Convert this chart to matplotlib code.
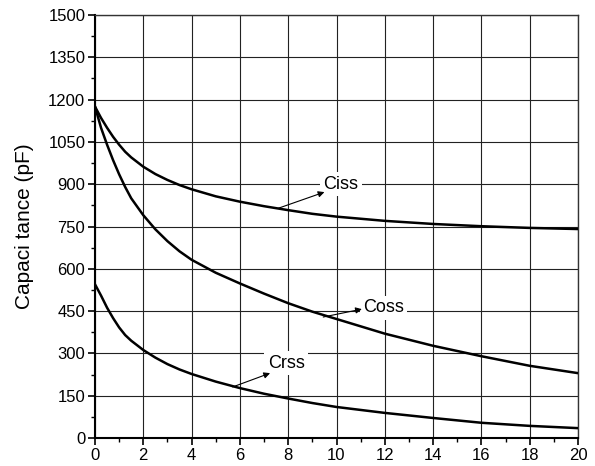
import matplotlib
matplotlib.use("Agg")
import matplotlib.pyplot as plt
from matplotlib.ticker import MultipleLocator

plt.rcParams['font.family'] = ['Liberation Sans', 'DejaVu Sans']

# capacitance vs drain-source voltage
vds = [0, 0.25, 0.5, 0.75, 1, 1.25, 1.5, 2, 2.5, 3, 3.5, 4, 5, 6, 7, 8, 9, 10, 12, 14, 16, 18, 20]
ciss = [1175, 1135, 1100, 1068, 1040, 1015, 995, 962, 936, 915, 897, 882, 857, 838, 822, 808, 795, 785,
        770, 759, 751, 745, 741]
coss = [1175, 1100, 1040, 985, 935, 890, 850, 790, 740, 698, 662, 632, 586, 548, 512, 478, 448, 422,
        370, 327, 290, 256, 230]
crss = [545, 505, 462, 425, 392, 365, 345, 312, 285, 262, 243, 227, 200, 177, 157, 140, 124, 110,
        89, 71, 54, 43, 35]

labels = ["Ciss", "Coss", "Crss"]
label_pos = [(9.45, 900), (11.1, 462), (7.15, 265)]
arrow_from = [(7.6, 815), (9.45, 429), (5.7, 181)]
arrow_to = [(9.5, 872), (11.05, 457), (7.25, 230)]

fig = plt.figure(figsize=(5.95, 4.66), dpi=100)
ax = fig.add_axes([95/595, 28/466, 483/595, 423/466])

for ys in [ciss, coss, crss]:
    ax.plot(vds, ys, color='black', linewidth=1.8, zorder=3)

ax.set_xlim(0, 20)
ax.set_ylim(0, 1500)
ax.xaxis.set_major_locator(MultipleLocator(2))
ax.xaxis.set_minor_locator(MultipleLocator(1))
ax.yaxis.set_major_locator(MultipleLocator(150))
ax.yaxis.set_minor_locator(MultipleLocator(75))
ax.grid(which='major', color='#222222', linewidth=0.8)
ax.tick_params(which='major', direction='out', length=5, width=1.2, labelsize=12, pad=2)
ax.tick_params(which='minor', direction='out', length=3, width=1.0)
ax.tick_params(top=False, right=False)
for s in ['left', 'bottom']:
    ax.spines[s].set_linewidth(1.5)
for s in ['top', 'right']:
    ax.spines[s].set_linewidth(1.0)
    ax.spines[s].set_color('#333333')

ax.set_ylabel("Capaci tance (pF)", fontsize=15, labelpad=10)

for lab, pos, a0, a1 in zip(labels, label_pos, arrow_from, arrow_to):
    ax.text(pos[0], pos[1], lab, fontsize=13, ha='left', va='center', zorder=4,
            bbox=dict(facecolor='white', edgecolor='none', pad=2.5))
    ax.annotate("", xy=a1, xytext=a0, zorder=5,
                arrowprops=dict(arrowstyle='-|>', color='black', lw=0.8,
                                mutation_scale=9, shrinkA=0, shrinkB=0))

fig.savefig("out.png", dpi=100)
